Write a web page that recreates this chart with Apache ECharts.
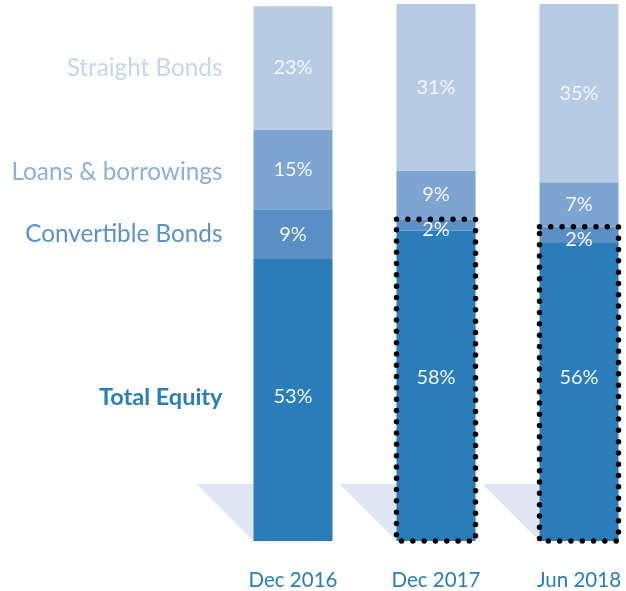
<!DOCTYPE html>
<html><head><meta charset="utf-8">
<script src="https://cdn.jsdelivr.net/npm/echarts@6/dist/echarts.min.js"></script>
<style>html,body{margin:0;padding:0;background:#fff}#c{width:626px;height:591px}</style>
</head><body><div id="c"></div>
<script>
// ---- data ----
const categories = ['Dec 2016', 'Dec 2017', 'Jun 2018'];
const seriesNames = ['Total Equity', 'Convertible Bonds', 'Loans & borrowings', 'Straight Bonds'];
const totalEquity = [52.5, 57.8, 55.5];
const convertibleBonds = [9.3, 2.1, 3.0];
const loansBorrowings = [14.8, 9.1, 8.3];
const straightBonds = [23.0, 31.0, 33.2];
const equityLabels = ['53%', '58%', '56%'];
const convertibleLabels = ['9%', '2%', '2%'];
const loansLabels = ['15%', '9%', '7%'];
const straightLabels = ['23%', '31%', '35%'];
const highlighted = [false, true, true];

// ---- styles ----
const barColors = ['#2b7dba', '#5a8fc5', '#7ea4d1', '#b8cbe4'];
const nameColors = ['#2a7dbd', '#5b92cb', '#8eaedb', '#c5d5ec'];
const nameOffsets = [-3, 0, 3, 0];
const BAR_W = 79;
const FONT = 'Lato, "Open Sans", sans-serif';
const equityOffsets = [-3, -8, -14];
const convOffsets = [0, 5, 5];

const valueSets = [totalEquity, convertibleBonds, loansBorrowings, straightBonds];
const labelSets = [equityLabels, convertibleLabels, loansLabels, straightLabels];
const offsetSets = [equityOffsets, convOffsets, [0, 0, 0], [0, 0, 0]];

const barSeries = valueSets.map((vals, s) => ({
  type: 'bar',
  name: seriesNames[s],
  stack: 'total',
  barWidth: BAR_W,
  z: 2,
  itemStyle: { color: barColors[s] },
  label: {
    show: true,
    position: 'inside',
    color: '#f3f6fb',
    fontSize: 20,
    fontFamily: FONT,
    formatter: p => labelSets[s][p.dataIndex]
  },
  data: vals.map((v, i) => ({ value: v, label: { offset: [0, offsetSets[s][i]] } }))
}));

// left-side series names, placed beside the first bar's segments
const nameData = [];
let cum = 0;
valueSets.forEach((vals, s) => {
  nameData.push([0, cum + vals[0] / 2, s]);
  cum += vals[0];
});

const nameSeries = {
  type: 'custom',
  clip: false,
  z: 3,
  silent: true,
  data: nameData,
  renderItem: (params, api) => {
    const s = api.value(2);
    const p = api.coord([api.value(0), api.value(1)]);
    return {
      type: 'text',
      style: {
        x: p[0] - BAR_W / 2 - 31,
        y: p[1] + nameOffsets[s],
        text: seriesNames[s],
        fill: nameColors[s],
        fontSize: s === 0 ? 23.5 : 24.3,
        fontWeight: s === 0 ? 'bold' : 'normal',
        fontFamily: FONT,
        align: 'right',
        verticalAlign: 'middle'
      }
    };
  }
};

const shadowSeries = {
  type: 'custom',
  clip: false,
  z: 1,
  silent: true,
  data: categories.map((c, i) => [i, 0]),
  renderItem: (params, api) => {
    const b = api.coord([api.value(0), 0]);
    const left = b[0] - BAR_W / 2;
    const h = 57;
    return {
      type: 'polygon',
      shape: { points: [[left, b[1] - h], [left - h, b[1] - h], [left, b[1]]] },
      style: { fill: '#dfe5f2' }
    };
  }
};

const boxData = [];
highlighted.forEach((h, i) => { if (h) boxData.push([i, totalEquity[i] + convertibleBonds[i]]); });

const boxSeries = {
  type: 'custom',
  clip: false,
  z: 5,
  silent: true,
  data: boxData,
  renderItem: (params, api) => {
    const t = api.coord([api.value(0), api.value(1)]);
    const b = api.coord([api.value(0), 0]);
    return {
      type: 'rect',
      shape: { x: t[0] - BAR_W / 2, y: t[1], width: BAR_W, height: b[1] - t[1] },
      style: { fill: null, stroke: '#000', lineWidth: 5.5, lineDash: [0, 11.3], lineCap: 'round' }
    };
  }
};

const chart = echarts.init(document.getElementById('c'), null, { renderer: 'canvas' });
chart.setOption({
  animation: false,
  grid: { left: 221.5, width: 429, top: 4, bottom: 50, outerBoundsMode: 'none', containLabel: false },
  xAxis: {
    type: 'category',
    data: categories,
    axisLine: { show: false },
    axisTick: { show: false },
    axisLabel: { color: '#2a7dbd', fontSize: 20.5, fontFamily: FONT, margin: 29 }
  },
  yAxis: { type: 'value', min: 0, max: 100, show: false },
  series: [shadowSeries, ...barSeries, boxSeries, nameSeries]
});
</script>
</body></html>
